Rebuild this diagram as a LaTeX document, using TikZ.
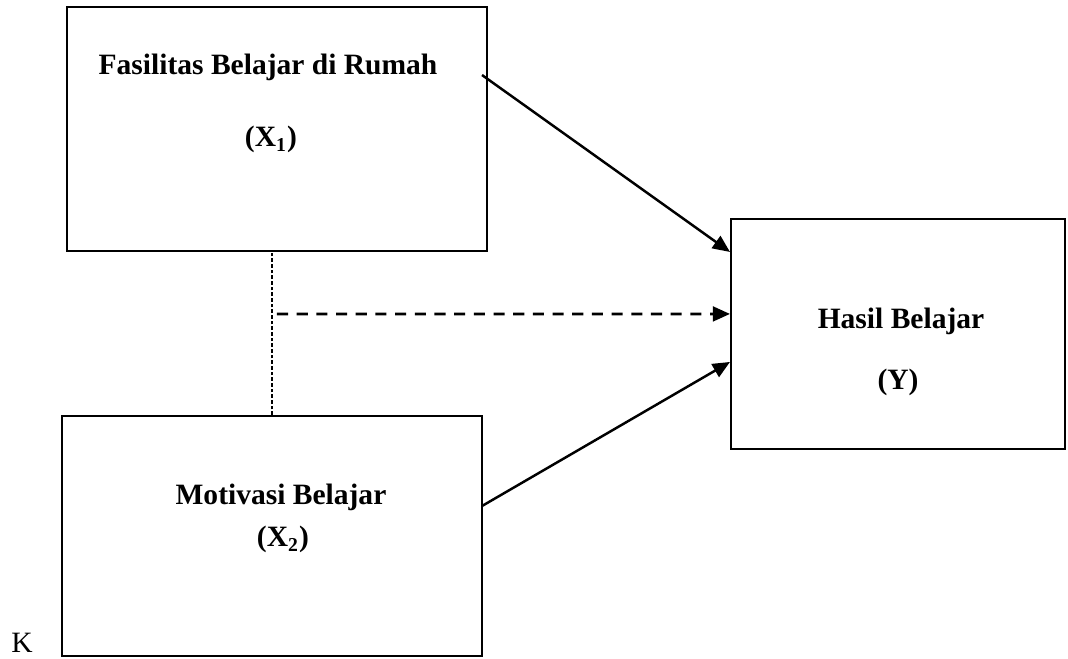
\documentclass[tikz,border=0pt]{standalone}
\usepackage{fontspec}
\setmainfont{Liberation Serif}
\usetikzlibrary{arrows.meta,calc}

\begin{document}
\begin{tikzpicture}[
    kotak/.style={draw, line width=0.85pt, inner sep=0pt},
    teks/.style={font=\fontsize{12}{14}\selectfont\bfseries, anchor=base, inner sep=0pt},
    panah/.style={line width=1pt, -{Triangle[length=7pt,width=6pt]}},
    panahputus/.style={line width=1.15pt, dash pattern=on 4.5pt off 3.5pt, -{Triangle[length=7pt,width=6pt]}},
    garistitik/.style={line width=0.45pt, dash pattern=on 1.5pt off 0.8pt}
]
    \useasboundingbox (0,0) rectangle (15.257,9.414);

    % Kotak variabel
    \node[kotak, minimum width=6cm, minimum height=3.486cm] (x1) at (3.957,7.571) {};
    \node[kotak, minimum width=6cm, minimum height=3.429cm] (x2) at (3.886,1.757) {};
    \node[kotak, minimum width=4.771cm, minimum height=3.286cm] (y) at (12.829,4.643) {};

    % Teks
    \node[teks] (x1a) at (3.829,8.343) {Fasilitas Belajar di Rumah};
    \node[teks] (x1b) at (3.871,7.314) {(X\textsubscript{1})};
    \node[teks] (x2a) at (4.014,2.2) {Motivasi Belajar};
    \node[teks] (x2b) at (4.043,1.6) {(X\textsubscript{2})};
    \node[teks] (ya) at (12.871,4.714) {Hasil Belajar};
    \node[teks] (yb) at (12.829,3.843) {(Y)};
    \node[anchor=base, inner sep=0pt, font=\fontsize{12}{14}\selectfont] (k) at (0.314,0.086) {K};

    % Hubungan
    \draw[panah] ([xshift=-0.086cm,yshift=0.771cm]x1.east) -- ([yshift=1.171cm]y.west);
    \draw[panah] ([xshift=-0.014cm,yshift=0.429cm]x2.east) -- ([yshift=-0.4cm]y.west);
    \draw[garistitik] (x2.north) -- (x2.north |- x1.south);
    \draw[panahputus] ($(x2.north |- y.west)+(0.071,0.286)$) -- ([yshift=0.286cm]y.west);
\end{tikzpicture}
\end{document}
